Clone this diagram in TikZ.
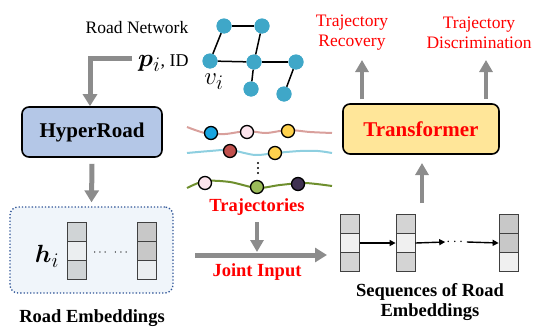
\documentclass[tikz,border=0pt]{standalone}
\usepackage{amsmath,bm}
\usepackage{fontspec}
\setmainfont{Liberation Serif}
\usetikzlibrary{arrows.meta}
\definecolor{arrowgray}{HTML}{8C8C8C}
\definecolor{netblue}{HTML}{3FA7C8}
\definecolor{hyperfill}{HTML}{B4C7E7}
\definecolor{transfill}{HTML}{FFE699}
\definecolor{embfill}{HTML}{F0F5FA}
\definecolor{embborder}{HTML}{2F5597}
\definecolor{cellborder}{HTML}{404040}
\definecolor{cdark}{HTML}{D0D4D6}
\definecolor{clight}{HTML}{EBEEF0}
\definecolor{sdark}{HTML}{D4D4D4}
\definecolor{slight}{HTML}{F0F0F0}
\definecolor{sdarker}{HTML}{C8C8C8}
\definecolor{curvered}{HTML}{D9A09C}
\definecolor{curveblue}{HTML}{8ECFE0}
\definecolor{curvegreen}{HTML}{6E8F2E}
\definecolor{tcyan}{HTML}{18A4E0}
\definecolor{tpink}{HTML}{FCE4EC}
\definecolor{tyellow}{HTML}{FFD24D}
\definecolor{tbrick}{HTML}{C0504D}
\definecolor{tgreen}{HTML}{9BBB59}
\definecolor{tpurple}{HTML}{3F3151}
\definecolor{labred}{HTML}{FF0000}
\begin{document}
\begin{tikzpicture}[x=1pt,y=-1pt,
  garrow/.style={draw=arrowgray, line width=5pt, -{Triangle[length=12pt,width=14pt]}},
  garrowthin/.style={draw=arrowgray, line width=4pt, -{Triangle[length=12pt,width=13pt]}},
  barrow/.style={draw=black, line width=1.4pt, -{Triangle[length=6pt,width=6pt]}},
  rnode/.style={circle, fill=netblue, minimum size=15pt, inner sep=0pt},
  redge/.style={draw=black, line width=1.5pt},
  tnode/.style={circle, draw=black, line width=1.3pt, minimum size=13pt, inner sep=0pt},
  cell/.style={draw=cellborder, line width=0.8pt, minimum width=19pt, minimum height=19pt, inner sep=0pt},
  mainbox/.style={draw=black, line width=1.6pt, rounded corners=7pt, inner sep=0pt},
  txt/.style={font=\fontsize{17.5}{20}\selectfont, inner sep=0pt, align=center},
  btxt/.style={font=\fontsize{18.5}{20.5}\bfseries\selectfont, inner sep=0pt, align=center},
  curve/.style={line width=2pt}
]
\useasboundingbox (0,0) rectangle (540,332);

% road network
\node[txt] (rn) at (137,28) {Road Network};
\node[rnode] (na) at (224,26) {};
\node[rnode] (nb) at (262,26) {};
\node[rnode] (nc) at (210,61) {};
\node[rnode] (nd) at (254,62) {};
\node[rnode] (ne) at (296,62) {};
\node[rnode] (nf) at (251,89) {};
\node[rnode] (ng) at (284,94) {};
\node[inner sep=0pt, anchor=base west] (pid) at (138,66) {{\fontsize{29}{30}\selectfont$\bm{p}_i$}{\fontsize{18}{20}\selectfont, ID}};
\node[inner sep=0pt] (vi) at (214,82) {\fontsize{28}{30}\selectfont$v_i$};

% boxes
\node[mainbox, fill=hyperfill, minimum width=140pt, minimum height=50pt] (hyper) at (92,132) {};
\node[font=\fontsize{21}{24}\bfseries\selectfont] (hypert) at (hyper) {HyperRoad};
\node[mainbox, fill=transfill, minimum width=156pt, minimum height=50pt] (trans) at (421,129) {};
\node[font=\fontsize{21}{24}\bfseries\selectfont, text=labred] (transt) at (trans) {Transformer};
\node[draw=embborder, dotted, line width=1.3pt, fill=embfill, rounded corners=8pt, minimum width=163pt, minimum height=86pt] (emb) at (91.5,250) {};

% gray arrows
\coordinate (lstart) at (132,58);
\coordinate (lcorner) at (90,58);
\draw[garrow] (lstart) -- (lcorner) -- (lcorner |- hyper.north);
\draw[garrow] ([yshift=-6pt]hyper.south) -- ([yshift=4pt]emb.north);

% embeddings
\node[inner sep=0pt] (hi) at (47,256) {\fontsize{31}{32}\selectfont$\bm{h}_i$};
\node[cell, fill=cdark] (e1a) at (76.5,231.5) {};
\node[cell, fill=clight] (e1b) at (76.5,250.5) {};
\node[cell, fill=cdark] (e1c) at (76.5,269.5) {};
\node[cell, fill=sdarker] (e2a) at (146.5,231.5) {};
\node[cell, fill=sdarker] (e2b) at (146.5,250.5) {};
\node[cell, fill=clight] (e2c) at (146.5,269.5) {};
\node[inner sep=0pt, font=\fontsize{13}{16}\selectfont] (edots) at (111.5,253) {$\cdots$\hspace{5pt}$\cdots$};
\node[btxt] (embl) at (92,318) {Road Embeddings};

% trajectories
\draw[curve, curvered] plot[smooth] coordinates {(187,127) (205,133) (225,134) (247,131) (266,133) (288,130) (310,132) (332,133)};
\draw[curve, curveblue] plot[smooth] coordinates {(187,153) (210,151) (230,150) (255,155) (275,153) (300,151) (318,151) (332,153)};
\draw[curve, curvegreen] plot[smooth] coordinates {(187,188) (205,181) (230,182) (257,188) (280,185) (305,183) (332,186)};
\node[tnode, fill=tcyan] (t1) at (211,133) {};
\node[tnode, fill=tpink] (t2) at (247,132) {};
\node[tnode, fill=tyellow] (t3) at (288,131) {};
\node[tnode, fill=tbrick] (t4) at (230,151) {};
\node[tnode, fill=tyellow] (t5) at (275,153) {};
\node[tnode, fill=tpink] (t6) at (205,183) {};
\node[tnode, fill=tgreen] (t7) at (257,187) {};
\node[tnode, fill=tpurple] (t8) at (298,184) {};
\foreach \yy in {163,168,173} \fill (258,\yy) circle (1.2pt);
\node[btxt, text=labred] (trajl) at (257,207) {Trajectories};

% joint input
\coordinate (jstart) at (195,255);
\coordinate (jend) at (327,255);
\coordinate (tdown) at (257,222);
\coordinate (tdownend) at (257,252);
\draw[garrow] (jstart) -- (jend);
\draw[garrowthin] (tdown) -- (tdownend);
\node[btxt, text=labred] (jointl) at (257,272) {Joint Input};

% sequences
\node[cell, fill=sdark] (s1a) at (350,224) {};
\node[cell, fill=slight] (s1b) at (350,243) {};
\node[cell, fill=sdark] (s1c) at (350,262) {};
\node[cell, fill=sdark] (s2a) at (405.5,224) {};
\node[cell, fill=slight] (s2b) at (405.5,243) {};
\node[cell, fill=sdark] (s2c) at (405.5,262) {};
\node[cell, fill=sdarker] (s3a) at (508.5,224) {};
\node[cell, fill=sdarker] (s3b) at (508.5,243) {};
\node[cell, fill=slight] (s3c) at (508.5,262) {};
\node[inner sep=1pt, font=\fontsize{14}{16}\selectfont] (sdots) at (456,242) {$\cdots$};
\draw[barrow] (s1b.east) -- (s2b.west);
\draw[barrow] (s2b.east) -- (sdots.west);
\draw[barrow] (sdots.east) -- (s3b.west);
\node[btxt] (seql) at (430,302) {Sequences of Road\\Embeddings};

% up arrows
\coordinate (sup1) at (422,203);
\coordinate (sup2) at (422,163);
\draw[garrowthin] (sup1) -- (sup2);
\coordinate (r1a) at (362,99);
\coordinate (r1b) at (362,60);
\coordinate (r2a) at (486,99);
\coordinate (r2b) at (486,60);
\draw[garrowthin] (r1a) -- (r1b);
\draw[garrowthin] (r2a) -- (r2b);
\node[txt, text=labred] (recl) at (352,33) {Trajectory\\Recovery};
\node[txt, text=labred] (disl) at (479,33) {Trajectory\\Discrimination};

% network edges
\draw[redge] (na) -- (nb);
\draw[redge] (na) -- (nc);
\draw[redge] (nb) -- (nd);
\draw[redge] (nc) -- (nd);
\draw[redge] (nd) -- (ne);
\draw[redge] (nd) -- (nf);
\draw[redge] (ne) -- (ng);
\foreach \n in {na,nb,nc,nd,ne,nf,ng} \node[rnode] at (\n) {};
\end{tikzpicture}
\end{document}
